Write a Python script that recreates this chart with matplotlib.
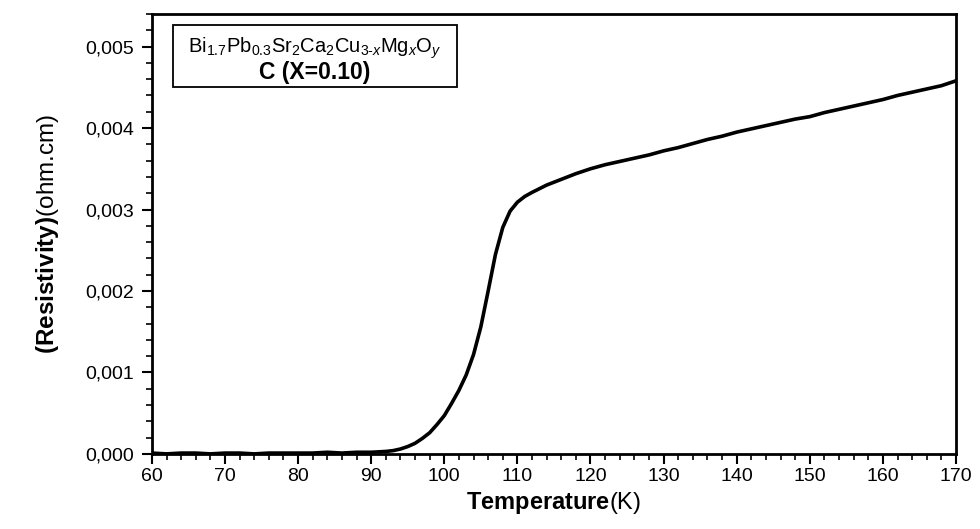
import matplotlib
matplotlib.use("Agg")
import matplotlib.pyplot as plt
from matplotlib.ticker import MultipleLocator, FuncFormatter
from matplotlib.patches import Rectangle

# temperature (K) and resistivity (ohm.cm)
temperature = [60, 62, 64, 66, 68, 70, 72, 74, 76, 78, 80, 82, 84, 86, 88, 90,
               92, 93, 94, 95, 96, 97, 98, 99, 100, 101, 102, 103, 104, 105,
               106, 107, 108, 109, 110, 111, 112, 114, 116, 118, 120, 122, 124,
               126, 128, 130, 132, 134, 136, 138, 140, 142, 144, 146, 148, 150,
               152, 154, 156, 158, 160, 162, 164, 166, 168, 170]
resistivity = [0.00001, 0.00000, 0.00001, 0.00001, 0.00000, 0.00001, 0.00001,
               0.00000, 0.00001, 0.00001, 0.00001, 0.00001, 0.00002, 0.00001,
               0.00002, 0.00002, 0.00003, 0.00004, 0.00006, 0.00009, 0.00013,
               0.00019, 0.00026, 0.00036, 0.00047, 0.00062, 0.00078, 0.00097,
               0.00122, 0.00156, 0.00200, 0.00245, 0.00278, 0.00298, 0.00309,
               0.00316, 0.00321, 0.00330, 0.00337, 0.00344, 0.00350, 0.00355,
               0.00359, 0.00363, 0.00367, 0.00372, 0.00376, 0.00381, 0.00386,
               0.00390, 0.00395, 0.00399, 0.00403, 0.00407, 0.00411, 0.00414,
               0.00419, 0.00423, 0.00427, 0.00431, 0.00435, 0.00440, 0.00444,
               0.00448, 0.00452, 0.00458]

plt.rcParams['font.family'] = ['Liberation Sans', 'DejaVu Sans']
plt.rcParams['mathtext.fontset'] = 'custom'
plt.rcParams['mathtext.rm'] = 'Liberation Sans'
plt.rcParams['mathtext.bf'] = 'Liberation Sans:bold'
plt.rcParams['mathtext.it'] = 'Liberation Sans:italic'

fig = plt.figure(figsize=(9.8, 5.29), dpi=100)
ax = fig.add_axes([0.155, 0.142, 0.8205, 0.8315])

ax.plot(temperature, resistivity, color='black', linewidth=2.6)

ax.set_xlim(60, 170)
ax.set_ylim(0, 0.0054)
ax.xaxis.set_major_locator(MultipleLocator(10))
ax.xaxis.set_minor_locator(MultipleLocator(2))
ax.yaxis.set_major_locator(MultipleLocator(0.001))
ax.yaxis.set_minor_locator(MultipleLocator(0.0002))
ax.yaxis.set_major_formatter(FuncFormatter(lambda v, p: f"{v:.3f}".replace('.', ',')))

for s in ax.spines.values():
    s.set_linewidth(2)
ax.tick_params(which='major', direction='out', length=7, width=1.5, labelsize=14)
ax.tick_params(axis='y', which='major', pad=6)
ax.tick_params(which='minor', direction='out', length=4, width=1.2)

ax.set_xlabel(r'$\mathbf{Temperature}$(K)', fontsize=17, labelpad=3)
ax.set_ylabel(r'$\mathbf{(Resistivity)}$(ohm.cm)', fontsize=17.5, labelpad=17)

ax.add_patch(Rectangle((0.026, 0.834), 0.353, 0.141, transform=ax.transAxes,
                       fill=False, edgecolor='black', linewidth=1.3))
ax.text(0.2025, 0.922, r'Bi$_{1.7}$Pb$_{0.3}$Sr$_2$Ca$_2$Cu$_{3\text{-}x}$Mg$_x$O$_y$',
        transform=ax.transAxes, ha='center', va='center', fontsize=14.5)
ax.text(0.2025, 0.866, 'C (X=0.10)', transform=ax.transAxes, ha='center',
        va='center', fontsize=16.5, fontweight='bold')

fig.savefig('out.png', dpi=100)
